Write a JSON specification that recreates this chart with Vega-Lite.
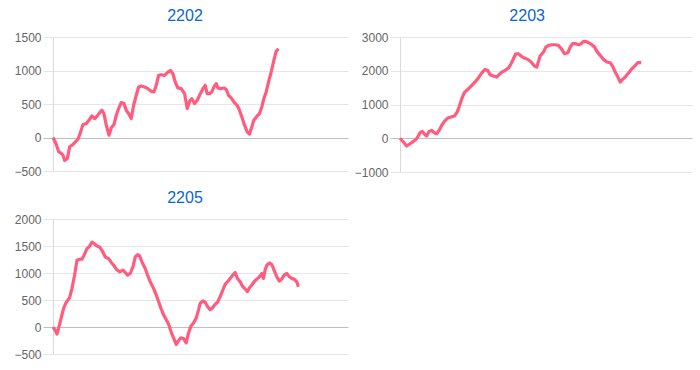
{
  "$schema": "https://vega.github.io/schema/vega-lite/v6.json",
  "padding": {"left": 13, "top": 8, "right": 5, "bottom": 5},
  "background": "white",
  "config": {
    "view": {"stroke": null},
    "font": "Liberation Sans",
    "title": {"font": "Liberation Sans", "fontSize": 16, "fontWeight": "normal", "color": "#0a66d2", "anchor": "middle", "frame": "bounds", "baseline": "alphabetic", "offset": 7, "dx": 4},
    "axisY": {"labelFontSize": 12, "labelColor": "#666666", "tickSize": 10, "labelPadding": 2, "domainColor": "#d9d9d9", "title": null, "labelFont": "Liberation Sans", "format": "d"}
  },
  "datasets": {
    "p2202": [
      {"t":0,"v":0},{"t":1.13,"v":-104},{"t":1.92,"v":-213},{"t":2.82,"v":-238},{"t":3.39,"v":-263},{"t":3.95,"v":-342},{"t":4.85,"v":-312},{"t":5.65,"v":-139},{"t":6.77,"v":-104},{"t":7.56,"v":-64},{"t":8.47,"v":-25},{"t":9.37,"v":84},{"t":10.16,"v":193},{"t":11.29,"v":208},{"t":12.42,"v":273},{"t":13.21,"v":322},{"t":14.11,"v":283},{"t":15.02,"v":322},{"t":15.81,"v":372},{"t":16.6,"v":407},{"t":17.27,"v":357},{"t":18.06,"v":184},{"t":18.97,"v":35},{"t":19.76,"v":144},{"t":20.66,"v":193},{"t":21.45,"v":332},{"t":22.24,"v":432},{"t":23.14,"v":521},{"t":24.05,"v":506},{"t":24.84,"v":407},{"t":25.63,"v":357},{"t":26.53,"v":283},{"t":27.32,"v":481},{"t":28.23,"v":630},{"t":29.02,"v":754},{"t":29.92,"v":769},{"t":31.05,"v":754},{"t":32.18,"v":729},{"t":33.31,"v":689},{"t":34.21,"v":680},{"t":35,"v":779},{"t":35.79,"v":928},{"t":36.69,"v":937},{"t":37.82,"v":928},{"t":38.95,"v":977},{"t":39.85,"v":1002},{"t":40.64,"v":952},{"t":41.43,"v":828},{"t":42.34,"v":739},{"t":43.47,"v":729},{"t":44.6,"v":655},{"t":45.5,"v":432},{"t":46.29,"v":541},{"t":47.08,"v":580},{"t":47.98,"v":506},{"t":48.89,"v":556},{"t":49.68,"v":630},{"t":50.81,"v":729},{"t":51.59,"v":779},{"t":52.27,"v":655},{"t":53.06,"v":655},{"t":53.85,"v":680},{"t":54.53,"v":754},{"t":55.32,"v":804},{"t":55.89,"v":739},{"t":56.79,"v":729},{"t":57.92,"v":739},{"t":58.71,"v":719},{"t":59.5,"v":630},{"t":60.4,"v":590},{"t":61.3,"v":531},{"t":62.43,"v":481},{"t":63.22,"v":407},{"t":64.01,"v":308},{"t":64.92,"v":184},{"t":65.82,"v":84},{"t":66.61,"v":50},{"t":67.4,"v":159},{"t":68.08,"v":258},{"t":69.21,"v":322},{"t":70,"v":357},{"t":70.79,"v":456},{"t":71.47,"v":580},{"t":72.26,"v":680},{"t":73.05,"v":828},{"t":73.95,"v":977},{"t":74.86,"v":1151},{"t":75.64,"v":1285},{"t":76.43,"v":1324}
    ],
    "p2203": [
      {"t":0,"v":0},{"t":1.14,"v":-113},{"t":2.29,"v":-231},{"t":3.43,"v":-162},{"t":4.57,"v":-93},{"t":5.71,"v":-14},{"t":6.86,"v":164},{"t":7.66,"v":203},{"t":8.57,"v":105},{"t":9.14,"v":65},{"t":9.94,"v":203},{"t":10.86,"v":233},{"t":11.77,"v":164},{"t":12.57,"v":134},{"t":13.37,"v":233},{"t":14.28,"v":381},{"t":15.2,"v":500},{"t":16.34,"v":598},{"t":17.48,"v":628},{"t":18.63,"v":658},{"t":19.54,"v":776},{"t":20.23,"v":924},{"t":21.14,"v":1171},{"t":22.05,"v":1349},{"t":23.2,"v":1448},{"t":24.34,"v":1547},{"t":25.48,"v":1645},{"t":26.63,"v":1764},{"t":27.42,"v":1862},{"t":28.22,"v":1961},{"t":29.14,"v":2040},{"t":30.05,"v":2011},{"t":30.85,"v":1882},{"t":31.99,"v":1843},{"t":33.14,"v":1813},{"t":33.94,"v":1882},{"t":34.85,"v":1961},{"t":36,"v":2011},{"t":37.14,"v":2080},{"t":38.05,"v":2208},{"t":38.85,"v":2356},{"t":39.65,"v":2504},{"t":40.57,"v":2504},{"t":41.48,"v":2435},{"t":42.62,"v":2376},{"t":43.77,"v":2337},{"t":44.91,"v":2258},{"t":46.05,"v":2139},{"t":46.85,"v":2109},{"t":47.42,"v":2277},{"t":47.99,"v":2435},{"t":49.14,"v":2554},{"t":49.94,"v":2702},{"t":50.85,"v":2751},{"t":51.99,"v":2771},{"t":53.14,"v":2771},{"t":54.28,"v":2751},{"t":55.42,"v":2633},{"t":56.34,"v":2504},{"t":57.48,"v":2534},{"t":58.28,"v":2702},{"t":59.08,"v":2801},{"t":60.22,"v":2801},{"t":61.13,"v":2771},{"t":62.05,"v":2801},{"t":62.85,"v":2870},{"t":63.65,"v":2870},{"t":64.56,"v":2830},{"t":65.71,"v":2771},{"t":66.62,"v":2702},{"t":67.42,"v":2574},{"t":68.56,"v":2455},{"t":69.7,"v":2337},{"t":70.85,"v":2258},{"t":71.99,"v":2238},{"t":72.79,"v":2139},{"t":73.71,"v":1961},{"t":74.62,"v":1813},{"t":75.42,"v":1665},{"t":76.22,"v":1744},{"t":77.13,"v":1813},{"t":78.05,"v":1912},{"t":79.19,"v":2040},{"t":80.33,"v":2139},{"t":81.47,"v":2238},{"t":82.62,"v":2238}
    ],
    "p2205": [
      {"t":0,"v":0},{"t":0.79,"v":-67},{"t":1.35,"v":-129},{"t":1.92,"v":-18},{"t":2.71,"v":153},{"t":3.61,"v":349},{"t":4.52,"v":459},{"t":5.64,"v":545},{"t":6.43,"v":716},{"t":7.22,"v":930},{"t":8.13,"v":1236},{"t":9.03,"v":1255},{"t":9.82,"v":1255},{"t":10.61,"v":1340},{"t":11.51,"v":1450},{"t":12.42,"v":1499},{"t":13.21,"v":1573},{"t":14,"v":1542},{"t":14.9,"v":1499},{"t":15.8,"v":1481},{"t":16.59,"v":1420},{"t":17.72,"v":1297},{"t":18.85,"v":1267},{"t":19.64,"v":1206},{"t":20.54,"v":1144},{"t":21.45,"v":1071},{"t":22.58,"v":1022},{"t":23.7,"v":1053},{"t":24.49,"v":1010},{"t":25.29,"v":961},{"t":26.19,"v":991},{"t":27.09,"v":1114},{"t":27.88,"v":1297},{"t":28.67,"v":1340},{"t":29.35,"v":1316},{"t":30.14,"v":1206},{"t":31.27,"v":1083},{"t":32.06,"v":961},{"t":32.96,"v":838},{"t":34.09,"v":716},{"t":34.99,"v":594},{"t":35.78,"v":471},{"t":36.57,"v":349},{"t":37.48,"v":226},{"t":38.38,"v":135},{"t":39.17,"v":55},{"t":39.96,"v":-80},{"t":40.86,"v":-202},{"t":41.77,"v":-324},{"t":42.56,"v":-251},{"t":43.35,"v":-202},{"t":44.25,"v":-214},{"t":45.15,"v":-294},{"t":45.94,"v":-110},{"t":46.73,"v":12},{"t":47.64,"v":73},{"t":48.54,"v":165},{"t":49.33,"v":318},{"t":49.89,"v":441},{"t":50.8,"v":483},{"t":51.59,"v":459},{"t":52.38,"v":379},{"t":53.28,"v":318},{"t":54.18,"v":361},{"t":54.97,"v":422},{"t":55.76,"v":459},{"t":56.67,"v":563},{"t":57.57,"v":685},{"t":58.36,"v":789},{"t":59.15,"v":838},{"t":60.05,"v":900},{"t":60.96,"v":961},{"t":61.75,"v":1010},{"t":62.54,"v":900},{"t":63.44,"v":838},{"t":64.34,"v":747},{"t":65.13,"v":704},{"t":65.92,"v":655},{"t":66.6,"v":728},{"t":67.39,"v":777},{"t":68.18,"v":838},{"t":69.08,"v":887},{"t":69.99,"v":930},{"t":70.78,"v":991},{"t":71.34,"v":900},{"t":71.9,"v":1053},{"t":72.47,"v":1144},{"t":73.37,"v":1187},{"t":74.16,"v":1157},{"t":74.95,"v":1053},{"t":75.85,"v":930},{"t":76.76,"v":851},{"t":77.55,"v":887},{"t":78.34,"v":961},{"t":79.24,"v":991},{"t":80.14,"v":930},{"t":80.93,"v":900},{"t":81.73,"v":887},{"t":82.63,"v":838},{"t":83.19,"v":747}
    ]
  },
  "hconcat": [
    {
      "vconcat": [
        {
          "title": "2202",
          "width": 295,
          "height": 134,
          "data": {"name": "p2202"},
          "mark": {"type": "line", "color": "#ff5c7e", "strokeWidth": 3.2, "strokeJoin": "round"},
          "encoding": {
            "x": {"field": "t", "type": "quantitative", "scale": {"domain": [0, 100], "nice": false, "zero": false}, "axis": null},
            "y": {"field": "v", "type": "quantitative", "scale": {"domain": [-500, 1500], "nice": false},
              "axis": {"values": [-500, 0, 500, 1000, 1500], "minExtent": 39, "maxExtent": 39,
                "gridColor": {"condition": {"test": "datum.value === 0", "value": "#bfbfbf"}, "value": "#e6e6e6"},
                "tickColor": {"condition": {"test": "datum.value === 0", "value": "#bfbfbf"}, "value": "#e6e6e6"}}}
          }
        },
        {
          "title": "2205",
          "width": 295,
          "height": 135,
          "data": {"name": "p2205"},
          "mark": {"type": "line", "color": "#ff5c7e", "strokeWidth": 3.2, "strokeJoin": "round"},
          "encoding": {
            "x": {"field": "t", "type": "quantitative", "scale": {"domain": [0, 100], "nice": false, "zero": false}, "axis": null},
            "y": {"field": "v", "type": "quantitative", "scale": {"domain": [-500, 2000], "nice": false},
              "axis": {"values": [-500, 0, 500, 1000, 1500, 2000], "minExtent": 39, "maxExtent": 39,
                "gridColor": {"condition": {"test": "datum.value === 0", "value": "#bfbfbf"}, "value": "#e6e6e6"},
                "tickColor": {"condition": {"test": "datum.value === 0", "value": "#bfbfbf"}, "value": "#e6e6e6"}}}
          }
        }
      ],
      "spacing": 13
    },
    {
      "title": "2203",
      "width": 292,
      "height": 135,
      "data": {"name": "p2203"},
      "mark": {"type": "line", "color": "#ff5c7e", "strokeWidth": 3.2, "strokeJoin": "round"},
      "encoding": {
        "x": {"field": "t", "type": "quantitative", "scale": {"domain": [0, 100], "nice": false, "zero": false}, "axis": null},
        "y": {"field": "v", "type": "quantitative", "scale": {"domain": [-1000, 3000], "nice": false},
          "axis": {"values": [-1000, 0, 1000, 2000, 3000], "minExtent": 45, "maxExtent": 45,
            "gridColor": {"condition": {"test": "datum.value === 0", "value": "#bfbfbf"}, "value": "#e6e6e6"},
            "tickColor": {"condition": {"test": "datum.value === 0", "value": "#bfbfbf"}, "value": "#e6e6e6"}}}
      }
    }
  ],
  "spacing": 6
}
